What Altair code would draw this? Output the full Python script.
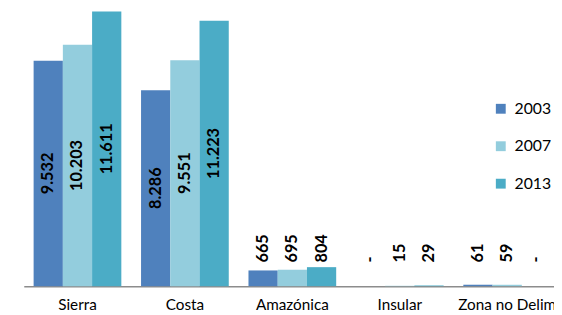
import altair as alt
import pandas as pd

categories = ["Sierra", "Costa", "Amazónica", "Insular", "Zona no Delim"]
years = ["2003", "2007", "2013"]
v2003 = [9532, 8286, 665, 0, 61]
v2007 = [10203, 9551, 695, 15, 59]
v2013 = [11611, 11223, 804, 29, 0]
colors = ["#4F81BD", "#93CDDD", "#4BACC6"]

rows = []
for yr, vals in zip(years, [v2003, v2007, v2013]):
    for c, v in zip(categories, vals):
        lab = "-" if v == 0 else f"{v:,}".replace(",", ".")
        big = v > 5000
        rows.append({"cat": c, "year": yr, "value": v, "label": lab,
                     "big": big, "lab_y": v / 2 if big else 1000})
df = pd.DataFrame(rows)

FONT = "Lato"

x = alt.X("cat:N", sort=categories, title=None,
          scale=alt.Scale(range=[0, 545], paddingInner=0.1835, paddingOuter=0.0917),
          axis=alt.Axis(domainColor="#8c8c8c", domainWidth=1.5, ticks=False,
                        labelAngle=0, labelFont=FONT, labelFontSize=15.5,
                        labelColor="#000000", labelPadding=12, grid=False))
xo = alt.XOffset("year:N", sort=years, scale=alt.Scale(paddingInner=0, paddingOuter=0))
yscale = alt.Scale(domain=[0, 11667], nice=False)

base = alt.Chart(df)

bars = base.mark_bar().encode(
    x=x, xOffset=xo,
    y=alt.Y("value:Q", scale=yscale, axis=None),
    color=alt.Color("year:N", sort=years,
                    scale=alt.Scale(domain=years, range=colors),
                    legend=alt.Legend(title=None, orient="none", legendX=476, legendY=92,
                                      symbolType="square", symbolSize=100,
                                      symbolStrokeWidth=0, labelFont=FONT,
                                      labelFontSize=16, labelColor="#000000",
                                      labelOffset=6, rowPadding=22, padding=0)),
)

text_big = base.transform_filter("datum.big").mark_text(
    angle=270, align="center", baseline="middle", font=FONT,
    fontWeight="bold", fontSize=16.5, color="#000000"
).encode(x=x, xOffset=xo, y=alt.Y("lab_y:Q", scale=yscale, axis=None), text="label:N")

text_small = base.transform_filter("!datum.big").mark_text(
    angle=270, align="left", baseline="middle", font=FONT,
    fontWeight="bold", fontSize=16.5, color="#000000"
).encode(x=x, xOffset=xo, y=alt.Y("lab_y:Q", scale=yscale, axis=None), text="label:N")

chart = alt.layer(bars, text_big, text_small).properties(
    width=538, height=280,
    autosize=alt.AutoSizeParams(type="none"),
    padding={"left": 16, "top": 0, "right": 0, "bottom": 27},
).configure_view(stroke=None)

chart.save("out.html", embed_options={"renderer": "svg", "actions": False})
